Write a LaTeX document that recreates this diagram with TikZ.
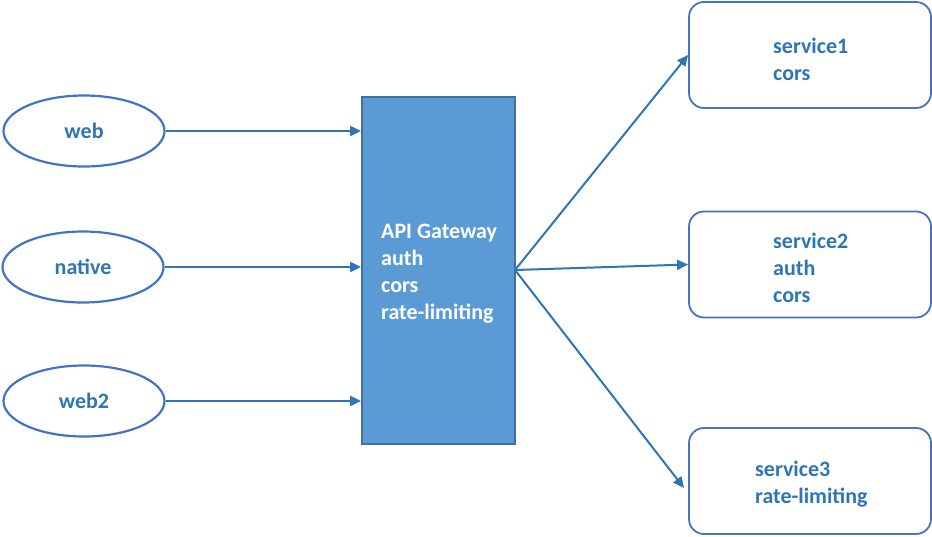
\documentclass[tikz,border=0pt]{standalone}
\usepackage{fontspec}
\setmainfont{Carlito}[BoldFont={Carlito Bold}]
\usetikzlibrary{shapes.geometric,arrows.meta}
\definecolor{ebord}{HTML}{4472C4}
\definecolor{tblue}{HTML}{2E75B6}
\definecolor{gfill}{HTML}{5B9BD5}
\definecolor{gbord}{HTML}{41719C}
\definecolor{abl}{HTML}{2E75B6}
\newcommand{\dfont}{\fontsize{22}{27}\selectfont\bfseries}
\tikzset{
  client/.style={ellipse,draw=ebord,line width=2.2pt,minimum width=161pt,minimum height=71pt,inner sep=0pt,
    font=\dfont,text=tblue},
  svc/.style={rectangle,rounded corners=15pt,draw=ebord,line width=1.8pt,minimum width=242pt,minimum height=106pt,inner sep=0pt},
  svctext/.style={anchor=west,align=left,font=\dfont,text=tblue,inner sep=0pt},
  gw/.style={rectangle,fill=gfill,draw=gbord,line width=1.8pt,minimum width=153pt,minimum height=347pt,inner sep=0pt},
  gwtext/.style={anchor=west,align=left,font=\dfont,text=white,inner sep=0pt},
  conn/.style={draw=abl,line width=2pt,-{Triangle[length=11pt,width=10pt]}}
}
\begin{document}
\begin{tikzpicture}[x=1pt,y=-1pt]
\useasboundingbox (0,0) rectangle (932,536);
\node[client] (web) at (84,131) {web};
\node[client] (native) at (83,267) {native};
\node[client] (web2) at (84,401) {web2};
\node[gw] (gw) at (438.5,270.5) {};
\node[gwtext] (gwt) at (381,274) {API Gateway\\auth\\cors\\rate-limiting};
\node[svc] (s1) at (810,55) {};
\node[svc] (s2) at (810,264.5) {};
\node[svc] (s3) at (810,481) {};
\node[svctext] (s1t) at (773,59.5) {service1\\cors};
\node[svctext] (s2t) at (773,268) {service2\\auth\\cors};
\node[svctext] (s3t) at (755,484.5) {service3\\rate-limiting};
\coordinate (hub) at (515,270);
\coordinate (s3in) at (684,488);
\draw[conn] (web.east) -- (gw.west |- web.east);
\draw[conn] (native.east) -- (gw.west |- native.east);
\draw[conn] (web2.east) -- (gw.west |- web2.east);
\draw[conn] (hub) -- (s1.west);
\draw[conn] (hub) -- (s2.west);
\draw[conn] (hub) -- (s3in);
\end{tikzpicture}
\end{document}
